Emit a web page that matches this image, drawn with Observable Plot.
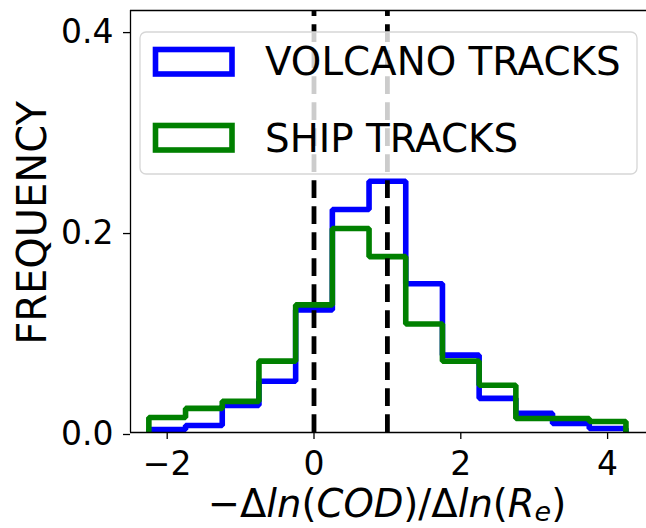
<!DOCTYPE html>
<html>
<head>
<meta charset="utf-8">
<script src="https://cdn.jsdelivr.net/npm/d3@7"></script>
<script src="https://cdn.jsdelivr.net/npm/@observablehq/plot@0.6"></script>
<style>
  html, body { margin: 0; padding: 0; background: #fff; }
  svg { display: block; }
</style>
</head>
<body>
<div id="chart"></div>
<script>
// Bin edges of the histograms
const edges = [-2.25, -1.75, -1.25, -0.75, -0.25, 0.25, 0.75, 1.25, 1.75, 2.25, 2.75, 3.25, 3.75, 4.25];
// Frequencies per bin
const volcano = [0.003, 0.007, 0.027, 0.051, 0.122, 0.222, 0.250, 0.148, 0.077, 0.034, 0.019, 0.009, 0.004];
const ship    = [0.015, 0.024, 0.031, 0.071, 0.127, 0.203, 0.175, 0.108, 0.071, 0.047, 0.014, 0.014, 0.011];
// Reference lines
const refLines = [0, 1];
// Ticks
const xTicks = [-2, 0, 2, 4];
const yTicks = [0, 0.2, 0.4];
const seriesNames = ["VOLCANO TRACKS", "SHIP TRACKS"];
const seriesColors = ["#0000ff", "#008000"];

function stepPoints(vals) {
  const pts = [{x: edges[0], y: 0}];
  vals.forEach((v, i) => pts.push({x: edges[i], y: v}));
  pts.push({x: edges[edges.length - 1], y: 0});
  return pts;
}

const W = 646, H = 528;
const FONT = "DejaVu Sans";

const plot = Plot.plot({
  width: W,
  height: H,
  marginLeft: 130,
  marginRight: 0,
  marginTop: 10,
  marginBottom: 96,
  style: {fontFamily: FONT, fontSize: "33px", color: "#000", background: "#fff", overflow: "visible"},
  x: {domain: [-2.5, 4.53]},
  y: {domain: [0, 0.42]},
  marks: [
    Plot.line(stepPoints(volcano), {x: "x", y: "y", curve: "step-after", stroke: seriesColors[0], strokeWidth: 5.6, strokeLinejoin: "miter", strokeLinecap: "butt"}),
    Plot.line(stepPoints(ship), {x: "x", y: "y", curve: "step-after", stroke: seriesColors[1], strokeWidth: 5.6, strokeLinejoin: "miter", strokeLinecap: "butt"}),
    Plot.ruleX(refLines, {y1: 0, y2: 0.42, stroke: "#000", strokeWidth: 4.8, strokeDasharray: "17.7,8.3"}),
    Plot.ruleY([0], {stroke: "#000", strokeWidth: 1.3}),
    Plot.ruleY([0.42], {stroke: "#000", strokeWidth: 1.3}),
    Plot.ruleX([-2.5], {y1: 0, y2: 0.42, stroke: "#000", strokeWidth: 1.3}),
    Plot.axisX({ticks: xTicks, tickFormat: d3.format("d"), tickSize: 7, tickPadding: 12.5, label: null, strokeWidth: 1.3, fontSize: 33, fontFamily: FONT}),
    Plot.axisY({ticks: yTicks, tickFormat: d3.format(".1f"), tickSize: 7, tickPadding: 10, label: null, strokeWidth: 1.3, fontSize: 33, fontFamily: FONT, dy: 2})
  ]
});

document.getElementById("chart").appendChild(plot);

const svg = d3.select(plot);

// Y axis title
svg.append("text")
  .attr("transform", "translate(46,223) rotate(-90)")
  .attr("text-anchor", "middle")
  .attr("font-family", FONT)
  .attr("font-size", 40)
  .attr("fill", "#000")
  .text("FREQUENCY");

// X axis title (math style)
const xl = svg.append("text")
  .attr("x", 387)
  .attr("y", 517)
  .attr("text-anchor", "middle")
  .attr("font-family", FONT)
  .attr("font-size", 38.5)
  .attr("fill", "#000");
const parts = [
  ["−Δ", "normal"], ["ln", "italic"], ["(", "normal"], ["COD", "italic"], [")/Δ", "normal"],
  ["ln", "italic"], ["(", "normal"], ["R", "italic"]
];
parts.forEach(([t, s]) => xl.append("tspan").attr("font-style", s).text(t));
xl.append("tspan").attr("font-style", "italic").attr("font-size", 27).attr("dy", 4).text("e");
xl.append("tspan").attr("font-style", "normal").attr("dy", -4).text(")");

// Legend
const lg = svg.append("g").attr("text-anchor", "start");
lg.append("rect")
  .attr("x", 140).attr("y", 32).attr("width", 497).attr("height", 142).attr("rx", 6)
  .attr("fill", "#fff").attr("fill-opacity", 0.8)
  .attr("stroke", "#d6d6d6").attr("stroke-width", 1.3);
const rowY = [49.5, 125.5];
const baseY = [75, 151.5];
seriesNames.forEach((name, i) => {
  lg.append("rect")
    .attr("x", 155.5).attr("y", rowY[i]).attr("width", 76.5).attr("height", 24.5)
    .attr("fill", "none").attr("stroke", seriesColors[i]).attr("stroke-width", 5.6);
  lg.append("text")
    .attr("x", 265).attr("y", baseY[i])
    .attr("text-anchor", "start")
    .attr("font-family", FONT).attr("font-size", 38.8).attr("fill", "#000")
    .text(name);
});
</script>
</body>
</html>
